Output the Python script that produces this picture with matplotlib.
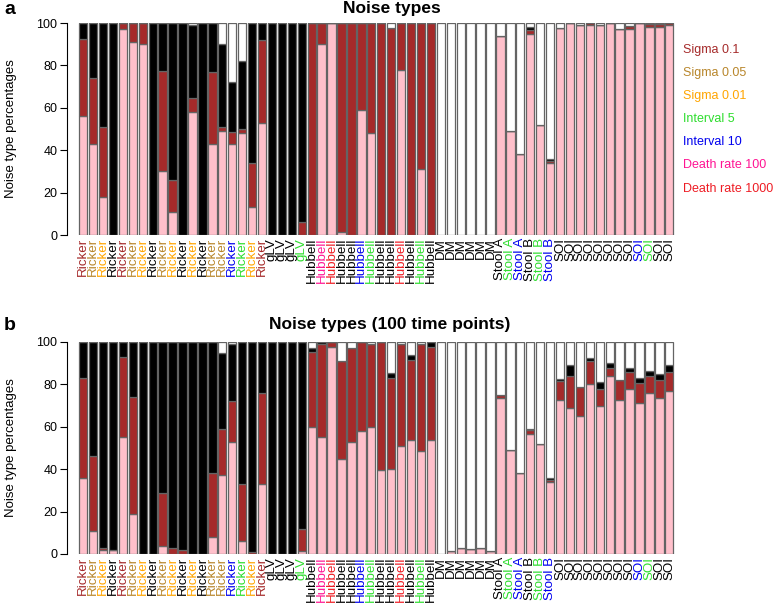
import matplotlib
matplotlib.use("Agg")
import matplotlib.pyplot as plt
import numpy as np

plt.rcParams['font.family'] = ['Liberation Sans', 'DejaVu Sans']

# ---------------- data ----------------
categories = (["Ricker"] * 19 + ["gLV"] * 4 + ["Hubbell"] * 13 + ["DM"] * 6 +
              ["Stool A"] * 3 + ["Stool B"] * 3 + ["SOI"] * 12)

label_keys = (["s01", "s005", "s001", "k", "s01", "s005", "s001", "k", "s005", "s001",
               "k", "s001", "k", "s005", "s005", "i10", "i5", "s001", "s01"] +
              ["k", "k", "k", "i5"] +
              ["k", "d100", "d1000", "k", "k", "i10", "i5", "k", "k", "d1000", "k", "i5", "k"] +
              ["k"] * 6 +
              ["k", "i5", "i10", "k", "i5", "i10"] +
              ["k"] * 8 + ["i10", "i5", "k", "k"])

legend_labels = ["Sigma 0.1", "Sigma 0.05", "Sigma 0.01", "Interval 5",
                 "Interval 10", "Death rate 100", "Death rate 1000"]
legend_keys = ["s01", "s005", "s001", "i5", "i10", "d100", "d1000"]
key_colors = {"k": "black", "s01": "#A52A2A", "s005": "#B8862B", "s001": "#FFA500",
              "i5": "#2EDD2E", "i10": "#0000EE", "d100": "#FF1493", "d1000": "#EE1C24"}

# Panel a: percentages per bar (pink, brown, black, white)
a_pink = [56, 43, 18, 0, 97, 91, 90, 0, 30, 11, 0, 58, 0, 43, 49, 43, 48, 13, 53,
          0, 0, 0, 0,
          0, 90, 100, 1.6, 0, 59, 48, 0, 0, 78, 0, 31, 0,
          0, 0, 0, 0, 0, 0,
          94, 49, 38, 95, 52, 34,
          97.6, 100, 99, 99, 99, 100, 97, 97, 100, 98, 98, 99]
a_brown = [36.5, 31, 33, 0, 3, 9, 10, 0, 47.5, 15, 0, 6.5, 0, 34, 2, 5.5, 2, 21, 39,
           0, 0, 0, 6,
           100, 10, 0, 98.4, 100, 41, 52, 100, 97.5, 22, 100, 69, 100,
           0, 0, 0, 0, 0, 0,
           0, 0, 0, 1.5, 0, 1,
           0, 0, 0, 1, 0, 0, 0, 1.5, 0, 1.5, 1.5, 1]
a_black = [7.5, 26, 49, 100, 0, 0, 0, 100, 22.5, 74, 100, 34.5, 100, 23, 39, 23.5, 32, 66, 8,
           100, 100, 100, 94,
           0, 0, 0, 0, 0, 0, 0, 0, 0, 0, 0, 0, 0,
           0, 0, 0, 0, 0, 0,
           0, 0, 0, 1.5, 0, 1,
           0, 0, 0, 0, 0, 0, 0, 0, 0, 0, 0, 0]
a_white = [0, 0, 0, 0, 0, 0, 0, 0, 0, 0, 0, 1, 0, 0, 10, 28, 18, 0, 0,
           0, 0, 0, 0,
           0, 0, 0, 0, 0, 0, 0, 0, 2.5, 0, 0, 0, 0,
           100, 100, 100, 100, 100, 100,
           6, 51, 62, 2, 48, 64,
           2.4, 0, 1, 0, 1, 0, 3, 1.5, 0, 0.5, 0.5, 0]

# Panel b: 100 time points
b_pink = [36, 11, 2, 2, 55, 19, 0, 0, 4, 0, 0, 0, 0, 8, 37.5, 53, 6, 0, 33,
          0, 0, 0, 1.4,
          60, 55, 97.6, 45, 53, 58, 60, 39.5, 40, 51, 54, 48.7, 54,
          0, 1.6, 3, 2.4, 3, 1.6,
          73.6, 49, 38, 56.8, 52, 34,
          72.8, 69, 65, 80, 70, 83.8, 72.8, 78, 71, 76, 73.8, 76.9]
b_brown = [47, 35, 1, 0, 38, 55, 0, 0, 25, 3, 2, 0, 0, 30, 21.5, 19, 27, 1, 43,
           0, 0, 0, 10.5,
           35.5, 44, 2.4, 46, 44, 42, 39, 60.5, 43, 48, 37.5, 50.3, 43.5,
           0, 0, 0, 0, 0, 0,
           1.3, 0, 0, 1.6, 0, 1,
           8.8, 14.8, 14, 11, 8, 4.1, 9.5, 7.9, 9.7, 7.8, 8.2, 9]
b_black = [17, 54, 97, 98, 7, 26, 100, 100, 71, 97, 98, 100, 100, 62, 36, 27, 67, 99, 24,
           100, 100, 100, 88.1,
           1.7, 1, 0, 0, 0, 0, 0, 0, 2.5, 0, 2.5, 0, 2.5,
           0, 0, 0, 0, 0, 0,
           0, 0, 0, 0.5, 0, 0.7,
           1.1, 5.2, 0, 1.3, 3.2, 2.2, 0, 2, 2.5, 2.4, 3.1, 3.1]
b_white = [0, 0, 0, 0, 0, 0, 0, 0, 0, 0, 0, 0, 0, 0, 5, 1, 0, 0, 0,
           0, 0, 0, 0,
           2.8, 0, 0, 9, 3, 0, 1, 0, 14.5, 1, 6, 1, 0,
           100, 98.4, 97, 97.6, 97, 98.4,
           25.1, 51, 62, 41.1, 48, 64.3,
           17.3, 11, 21, 7.7, 18.8, 9.9, 17.7, 12.1, 16.8, 13.8, 14.9, 11]

seg_colors = ["#FFC0CB", "#A52A2A", "black", "white"]

# ---------------- figure ----------------
W, H = 778, 606
fig = plt.figure(figsize=(W / 100, H / 100), dpi=100)


def px_axes(left, top, right, bottom):
    return fig.add_axes([left / W, 1 - bottom / H, (right - left) / W, (bottom - top) / H])


def draw_panel(ax, segs, center_y):
    x = np.arange(len(categories))
    base = np.zeros(len(categories))
    for vals, col in zip(segs, seg_colors):
        v = np.array(vals, dtype=float)
        ax.bar(x, v, bottom=base, width=0.84, color=col, edgecolor="#646464",
               linewidth=0.9)
        base += v
    ax.set_xlim(-1.63, 63.8)
    ax.set_ylim(0, 100)
    for s in ["top", "right", "bottom"]:
        ax.spines[s].set_visible(False)
    ax.spines["left"].set_bounds(0, 100)
    ax.spines["left"].set_linewidth(0.8)
    ax.set_yticks([0, 20, 40, 60, 80, 100])
    ax.tick_params(axis="y", direction="out", length=5, width=0.8, labelsize=9, pad=2)
    ax.set_xticks(x)
    ax.set_xticklabels(categories, rotation=90, fontsize=9.6)
    ax.tick_params(axis="x", length=0, pad=2)
    for lbl, key in zip(ax.get_xticklabels(), label_keys):
        lbl.set_color(key_colors[key])
    fig.text(11 / W, 1 - center_y / H, "Noise type percentages", fontsize=9.5,
             rotation=90, ha="center", va="center")


axA = px_axes(67, 23, 717, 235)
draw_panel(axA, [a_pink, a_brown, a_black, a_white], 129)
axB = px_axes(67, 342, 717, 554)
draw_panel(axB, [b_pink, b_brown, b_black, b_white], 448)

fig.text(392 / W, 1 - 9 / H, "Noise types", fontsize=12.5, fontweight="bold",
         ha="center", va="center")
fig.text(390 / W, 1 - 325 / H, "Noise types (100 time points)", fontsize=12.5,
         fontweight="bold", ha="center", va="center")
fig.text(4 / W, 1 - 9 / H, "a", fontsize=14, fontweight="bold", ha="left", va="center")
fig.text(4 / W, 1 - 325 / H, "b", fontsize=14, fontweight="bold", ha="left", va="center")

for i, (lab, key) in enumerate(zip(legend_labels, legend_keys)):
    fig.text(683 / W, 1 - (50 + i * 23.1) / H, lab, fontsize=9, color=key_colors[key],
             ha="left", va="center")

fig.savefig("out.png", dpi=100)
